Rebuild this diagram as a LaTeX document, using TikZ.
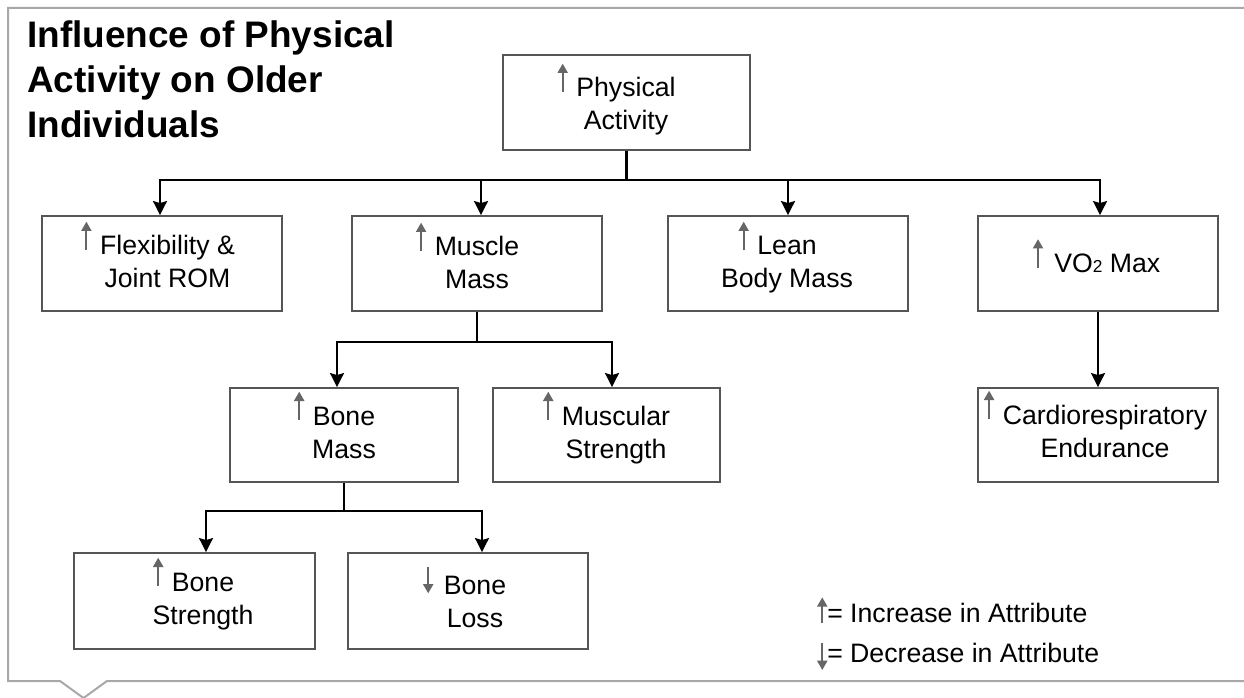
\documentclass[tikz,border=0pt]{standalone}
\usepackage{fontspec}
\setmainfont{Liberation Sans}
\usetikzlibrary{arrows.meta}

\definecolor{framegray}{HTML}{A8A8A8}
\definecolor{boxgray}{HTML}{555555}
\definecolor{glyphgray}{HTML}{666666}

% small gray arrows used as "increase" / "decrease" marks
\tikzset{glyph/.style={glyphgray,line width=1.6pt,-{Triangle[length=7pt,width=7.5pt]}}}
\newsavebox\incbox
\newsavebox\decbox
\newsavebox\legincbox
\newsavebox\legdecbox
\sbox\incbox{\tikz[baseline=0pt]\draw[glyph] (0,3.5pt) -- (0,25pt);}
\sbox\decbox{\tikz[baseline=0pt]\draw[glyph] (0,20pt) -- (0,0.5pt);}
\sbox\legincbox{\tikz[baseline=0pt]\draw[glyph] (0,-0.8pt) -- (0,18.5pt);}
\sbox\legdecbox{\tikz[baseline=0pt]\draw[glyph] (0,14.5pt) -- (0,-6pt);}
\newcommand\incr{\llap{\smash{\usebox\incbox}\hspace{6.5pt}}}
\newcommand\decr{\llap{\smash{\usebox\decbox}\hspace{8pt}}}
\newcommand\bodyfont{\fontsize{20pt}{24.75pt}\selectfont}
\newcommand\titlefont{\fontsize{27.7pt}{33.75pt}\selectfont\bfseries}

\begin{document}
\begin{tikzpicture}[x=0.75pt,y=-0.75pt,
  box/.style n args={2}{draw=boxgray,line width=1.4pt,fill=white,
    minimum width=#1*0.75pt,minimum height=#2*0.75pt,inner sep=0pt},
  lbl/.style={font=\bodyfont,align=center,inner sep=0pt,text=black,anchor=base},
  conn/.style={draw=black,line width=1.6pt,line join=miter,
    -{Stealth[length=10.5pt,width=10.5pt,inset=1.5pt]}},
  frame/.style={draw=framegray,line width=1.5pt,line join=miter}]

\clip (0,0) rectangle (1244,698);

% callout frame, open to the right
\draw[frame] (1260,8) -- (8,8) -- (8,681) -- (60,681) -- (83.5,698)
  -- (107,681) -- (1260,681);

% title (anchored at the baseline of its last line)
\node[anchor=base west,inner sep=0pt,align=left,font=\titlefont] (title)
  at (27,138) {Influence of Physical\\Activity on Older\\Individuals};

% boxes
\node[box={247}{95}] (pa) at (626.5,102.5) {};
\node[box={240}{95}] (flex) at (162,263.5) {};
\node[box={250}{95}] (muscle) at (477,263.5) {};
\node[box={240}{95}] (lean) at (788,263.5) {};
\node[box={240}{95}] (vo2) at (1098,263.5) {};
\node[box={228}{94}] (bonemass) at (344,435) {};
\node[box={227}{94}] (musstr) at (606.5,435) {};
\node[box={240}{94}] (cardio) at (1098,435) {};
\node[box={241}{96}] (bonestr) at (194.5,601) {};
\node[box={240}{96}] (boneloss) at (468,601) {};

% box texts (anchored at the baseline of the last line)
\node[lbl] (tpa) at (626,130) {\incr Physical\\Activity};
\node[lbl] (tflex) at (167.5,288) {\incr Flexibility \&\\Joint ROM};
\node[lbl] (tmuscle) at (477,289) {\incr Muscle\\Mass};
\node[lbl] (tlean) at (787,288) {\incr Lean\\Body Mass};
\node[lbl] (tvo2) at (1106,272.5) {\incr\hspace{2pt}VO{\fontsize{13pt}{13pt}\selectfont 2} Max};
\node[lbl] (tbonemass) at (344,458) {\incr Bone\\Mass};
\node[lbl] (tmusstr) at (616,458) {\incr Muscular\\Strength};
\node[lbl] (tcardio) at (1105,457) {\incr Cardiorespiratory\\Endurance};
\node[lbl] (tbonestr) at (203,624) {\incr Bone\\Strength};
\node[lbl] (tboneloss) at (475,627) {\decr Bone\\Loss};

% branch points
\coordinate (bflex) at (160,180);
\coordinate (bmus) at (481,180);
\coordinate (blean) at (788,180);
\coordinate (bvo2) at (1100,180);
\coordinate (bbm) at (337,342);
\coordinate (bms) at (612,342);
\coordinate (bbs) at (206,511);
\coordinate (bbl) at (482,511);

% connectors
\foreach \c/\n in {bflex/flex,bmus/muscle,blean/lean,bvo2/vo2}
  \draw[conn] (pa.south) |- (\c) -- (\c |- \n.north);
\foreach \c/\n in {bbm/bonemass,bms/musstr}
  \draw[conn] (muscle.south) |- (\c) -- (\c |- \n.north);
\foreach \c/\n in {bbs/bonestr,bbl/boneloss}
  \draw[conn] (bonemass.south) |- (\c) -- (\c |- \n.north);
\draw[conn] (vo2.south) -- (cardio.north);

% legend
\node[anchor=base west,inner sep=0pt,font=\bodyfont] (leginc) at (817,622)
  {\usebox\legincbox= Increase in Attribute};
\node[anchor=base west,inner sep=0pt,font=\bodyfont] (legdec) at (817,662)
  {\usebox\legdecbox= Decrease in Attribute};
\end{tikzpicture}
\end{document}
